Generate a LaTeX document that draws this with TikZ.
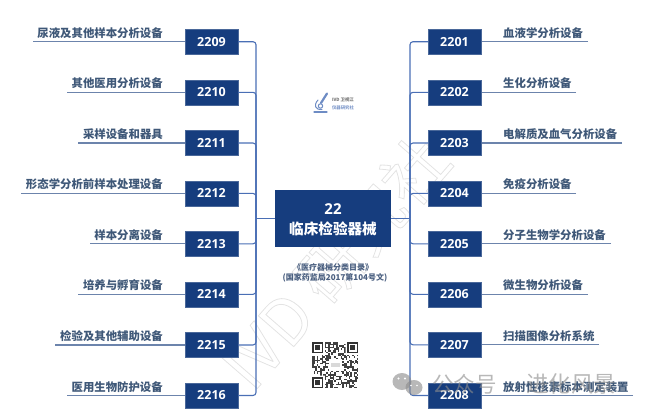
\documentclass[tikz,border=0pt]{standalone}
\usepackage{fontspec}
\setmainfont{Noto Sans CJK SC}
\newfontfamily\numf{Open Sans}
\definecolor{boxblue}{HTML}{163D7E}
\definecolor{linkblue}{HTML}{4A6FB5}
\definecolor{rulegrey}{HTML}{6C84AC}
\definecolor{labelgrey}{HTML}{3F5878}
\definecolor{capgrey}{HTML}{4A5F80}
\tikzset{
 codebox/.style={draw=rulegrey!60!boxblue,line width=.5pt,fill=boxblue,text=white,minimum width=53pt,minimum height=25pt,inner sep=0pt,font=\numf\fontsize{12.5}{14}\selectfont\bfseries},
 mainbox/.style={fill=boxblue,text=white,minimum width=116pt,minimum height=57pt,inner sep=0pt},
 conn/.style={draw=linkblue,line width=1.1pt,rounded corners=3pt},
 under/.style={draw=rulegrey,line width=1.1pt},
 lab/.style={text=labelgrey,inner sep=0pt,font=\fontsize{11.4}{13}\selectfont\bfseries},
 captxt/.style={text=capgrey,inner sep=0pt,font=\fontsize{8}{10}\selectfont\bfseries},
 marktxt/.style={text=black!45,opacity=.62,inner sep=0pt},
 ghost/.style={text=black!11,inner sep=0pt}
}
\begin{document}
\begin{tikzpicture}[x=1pt,y=-1pt]
\useasboundingbox (0,0) rectangle (646,418);
% faint diagonal watermark, outlined glyphs
\node[ghost,rotate=49,font=\fontsize{64}{68}\selectfont] (wm) at (335,262) {\special{pdf:code 1 Tr 0.8 w}IVD 研究社\special{pdf:code 0 Tr}};
% centre
\node[mainbox] (main) at (333,218.5) {};
\node[text=white,inner sep=0pt,font=\numf\fontsize{15}{17}\selectfont\bfseries] (mainnum) at (333,209) {22};
\node[text=white,inner sep=0pt,font=\fontsize{14.6}{17}\selectfont\bfseries] (maintxt) at (333,229) {临床检验器械};
\coordinate (ltrunk) at (256,218.5);
\coordinate (rtrunk) at (410,218.5);
\draw[conn] (main.west) -- (ltrunk);
\draw[conn] (main.east) -- (rtrunk);
% left side
\foreach \c/\y/\e/\t in {2209/41.7/33/尿液及其他样本分析设备,2210/92.3/67/其他医用分析设备,2211/143/78/采样设备和器具,2212/193.4/21/形态学分析前样本处理设备,2213/243.8/90/样本分离设备,2214/294.3/78/培养与孵育设备,2215/345/55/检验及其他辅助设备,2216/395.5/67/医用生物防护设备}{
 \coordinate (e\c) at (\e,\y);
 \draw[under] (e\c) -- (211,\y);
 \node[codebox] (b\c) at (211.5,\y) {\c};
 \draw[conn] (b\c.east) -| (ltrunk);
 \node[lab,anchor=east] (t\c) at (163,\y-8.8) {\t};
}
% right side
\foreach \c/\y/\e/\t in {2201/41.7/588/血液学分析设备,2202/92.3/576/生化分析设备,2203/143/622/电解质及血气分析设备,2204/193.4/576/免疫分析设备,2205/243.8/611/分子生物学分析设备,2206/294.3/588/微生物分析设备,2207/344.8/599/扫描图像分析系统,2208/395.5/633/放射性核素标本测定装置}{
 \coordinate (e\c) at (\e,\y);
 \draw[under] (e\c) -- (454,\y);
 \node[codebox] (b\c) at (454.5,\y) {\c};
 \draw[conn] (b\c.west) -| (rtrunk);
 \node[lab,anchor=west] (t\c) at (503,\y-8.8) {\t};
}
% caption
\node[captxt] (cap1) at (333,267) {《医疗器械分类目录》};
\node[captxt] (cap2) at (335,278) {(国家药监局2017第104号文)};
% logo
\begin{scope}[draw=linkblue!80,line cap=round]
 \draw[line width=2.2pt] (327,93.5) -- (321,103);
 \draw[line width=1pt] (318,100) .. controls (313.5,105) and (315,110) .. (322,109.5);
 \draw[line width=1pt] (320.5,106) circle (2.2pt);
 \draw[line width=1.3pt] (314,112) -- (327,112);
\end{scope}
\node[text=black!55,inner sep=0pt,font=\fontsize{4.4}{5}\selectfont\bfseries] (logo1) at (343,100) {IVD 卫视江};
\node[text=linkblue!70,inner sep=0pt,font=\fontsize{4.4}{5}\selectfont\bfseries] (logo2) at (343,107.5) {仪器研究社};
% QR code
\pgfmathsetseed{2208}
\begin{scope}[shift={(312,342)}]
 \foreach \i in {0,...,28}{\foreach \j in {0,...,28}{
  \pgfmathparse{rnd<0.5?1:0}
  \ifnum\pgfmathresult=1 \fill[black!75] (\i*1.6,\j*1.6) rectangle ++(1.6,1.6);\fi
 }}
 \fill[white] (0,0) rectangle (12.8,12.8) (33.6,0) rectangle (46.4,12.8) (0,33.6) rectangle (12.8,46.4);
 \foreach \a/\b in {0/0,35.2/0,0/35.2}{
  \fill[black!80] (\a,\b) rectangle ++(11.2,11.2);
  \fill[white] (\a+1.6,\b+1.6) rectangle ++(8,8);
  \fill[black!80] (\a+3.2,\b+3.2) rectangle ++(4.8,4.8);
 }
 \fill[white] (16.5,17) rectangle (30,29);
 \fill[black!15] (19,21) rectangle (28,25);
\end{scope}
% platform mark
\fill[black!45,opacity=.62] (402,381.5) ellipse (9.5pt and 8.5pt);
\fill[black!45,opacity=.62] (414,387.5) ellipse (8.5pt and 7.5pt);
\fill[white] (398.5,378.5) circle (1.1pt) (405,378.5) circle (1.1pt) (411,385.5) circle (.9pt) (417,385.5) circle (.9pt);
\node[marktxt,anchor=west,font=\fontsize{21.5}{24}\selectfont] (mk1) at (432,384) {公众号};
\node[marktxt,anchor=west,font=\fontsize{22.5}{24}\selectfont] (mk2) at (526,384) {进化风景};
\end{tikzpicture}
\end{document}
